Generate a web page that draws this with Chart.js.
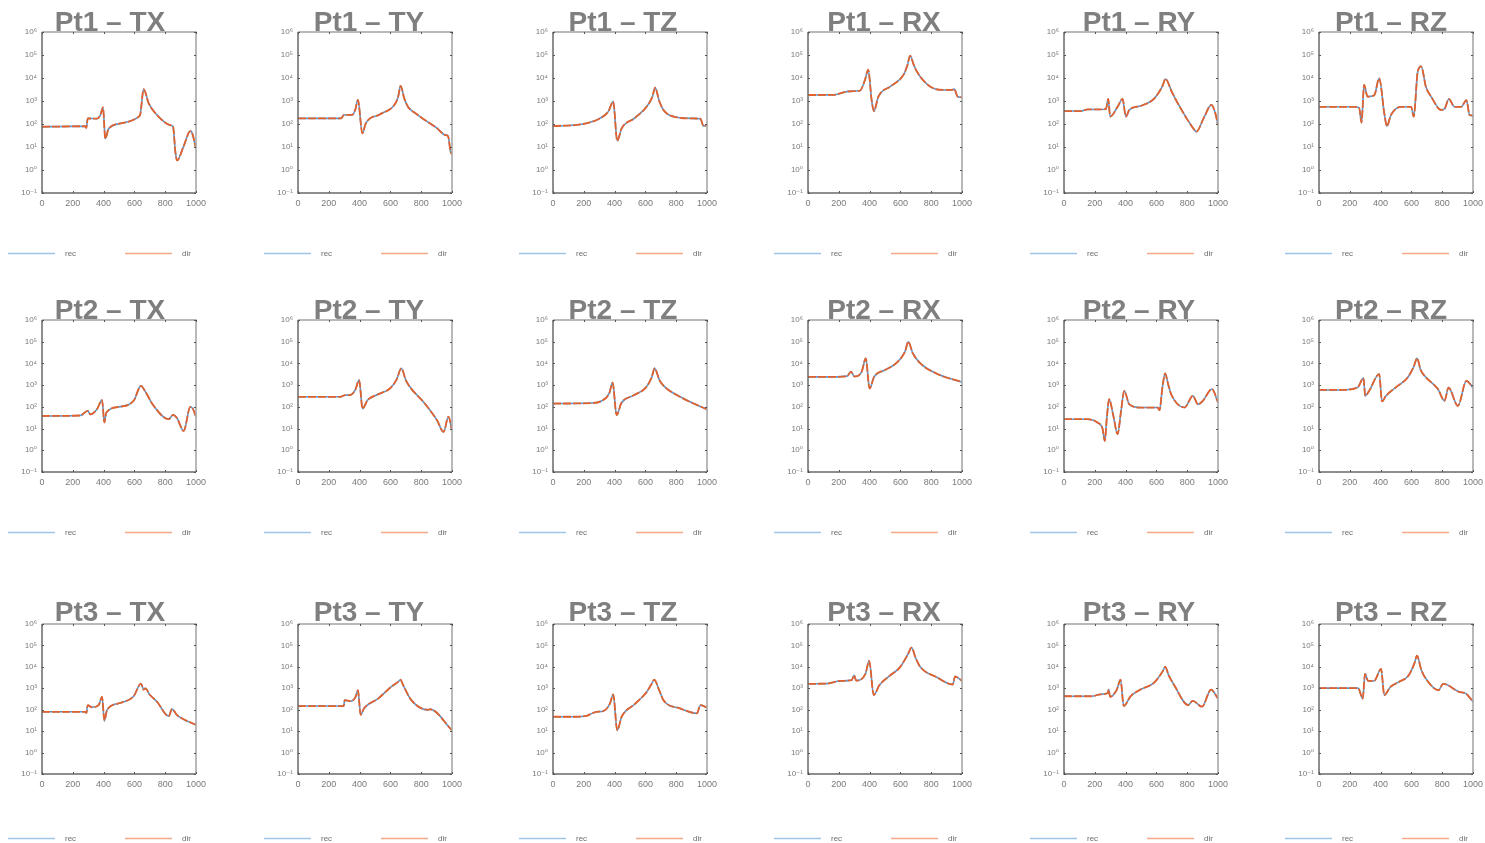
<!DOCTYPE html>
<html>
<head>
<meta charset="utf-8">
<title>Frequency response functions – rec vs dir</title>
<script src="https://cdn.jsdelivr.net/npm/chart.js@4.4.1/dist/chart.umd.min.js"></script>
<style>
  html, body { margin: 0; padding: 0; background: #ffffff; }
  #board { position: relative; width: 1485px; height: 843px; overflow: hidden; background: #ffffff; }
  #board canvas { position: absolute; }
</style>
</head>
<body>
<div id="board"></div>
<script>
// ---- response data: frequency (Hz) and magnitude for every point / DOF ----
// rec and dir coincide to plotting precision, so both datasets read the same arrays.
const pt1TX_f = [0, 150, 280, 288, 297, 357, 379, 396, 411, 433, 530, 628, 638, 660, 693, 747, 833, 851, 866, 877, 920, 963, 974, 1000];
const pt1TX_m = [76, 78, 80, 68, 175, 170, 245, 525, 23, 63, 112, 210, 260, 3250, 790, 245, 89, 76, 6.2, 2.6, 11, 49, 42, 8.5];

const pt1TY_f = [0, 280, 297, 352, 372, 389, 418, 440, 530, 626, 650, 666, 690, 714, 770, 824, 900, 956, 974, 991, 1000];
const pt1TY_m = [175, 175, 245, 250, 420, 1120, 39, 107, 260, 680, 1500, 4550, 1300, 560, 270, 148, 68, 33, 30, 6.2, 4.9];

const pt1TZ_f = [0, 196, 304, 359, 391, 417, 446, 530, 609, 645, 663, 690, 717, 804, 900, 957, 978, 1000];
const pt1TZ_m = [81, 100, 175, 345, 940, 18.6, 65, 180, 575, 1500, 3800, 1000, 410, 195, 175, 170, 81, 90];

const pt1RX_f = [0, 163, 250, 293, 337, 370, 391, 413, 428, 457, 540, 620, 645, 663, 685, 707, 793, 880, 935, 950, 972, 1000];
const pt1RX_m = [1820, 1850, 2550, 2700, 2800, 8300, 23000, 1120, 365, 1540, 4500, 13700, 35000, 93000, 40000, 19000, 4250, 3030, 3030, 3300, 1540, 1450];

const pt1RY_f = [0, 109, 152, 272, 287, 300, 348, 380, 402, 424, 500, 587, 640, 659, 700, 739, 848, 859, 910, 957, 983, 1000];
const pt1RY_m = [365, 365, 430, 440, 1230, 210, 560, 1230, 210, 410, 620, 1300, 4500, 9100, 2500, 790, 54, 46, 200, 680, 290, 89];

const pt1RZ_f = [0, 228, 261, 276, 293, 315, 359, 391, 424, 441, 467, 533, 598, 615, 641, 663, 695, 728, 793, 815, 843, 880, 924, 957, 978, 1000];
const pt1RZ_m = [560, 560, 500, 115, 5000, 1550, 1800, 9700, 290, 81, 245, 560, 560, 210, 19000, 32000, 4000, 1550, 410, 450, 1230, 560, 560, 1100, 245, 230];

const pt2TX_f = [0, 249, 297, 314, 357, 390, 405, 418, 500, 595, 643, 665, 725, 823, 851, 877, 920, 963, 978, 1000];
const pt2TX_m = [38, 40, 66, 45, 78, 205, 19, 55, 100, 190, 930, 590, 112, 27, 43, 30, 7.8, 100, 85, 35];

const pt2TY_f = [0, 274, 306, 339, 371, 397, 419, 452, 520, 597, 640, 671, 700, 726, 823, 903, 945, 977, 1000];
const pt2TY_m = [290, 290, 345, 350, 590, 1700, 83, 205, 380, 700, 1800, 5900, 1700, 840, 142, 24, 7, 35, 8.4];

const pt2TZ_f = [0, 254, 317, 365, 387, 413, 444, 520, 603, 640, 660, 690, 714, 825, 1000];
const pt2TZ_m = [142, 150, 190, 415, 1300, 42, 150, 330, 770, 2200, 5900, 1800, 1000, 290, 76];

const pt2RX_f = [0, 159, 254, 279, 302, 349, 375, 400, 429, 500, 571, 630, 651, 680, 730, 857, 1000];
const pt2RX_m = [2400, 2400, 2600, 4200, 2500, 4200, 17000, 700, 2400, 5000, 10000, 35000, 100000, 30000, 10000, 2900, 1400];

const pt2RY_f = [0, 152, 217, 250, 265, 278, 293, 320, 348, 370, 391, 424, 500, 609, 620, 640, 657, 675, 696, 783, 837, 870, 902, 961, 1000];
const pt2RY_m = [27, 27, 19, 10, 2.7, 30, 225, 40, 5.5, 60, 550, 130, 93, 93, 70, 900, 3500, 1200, 380, 93, 325, 130, 190, 660, 160];

const pt2RZ_f = [0, 141, 250, 289, 300, 326, 391, 409, 435, 500, 576, 615, 637, 660, 685, 772, 815, 841, 902, 957, 1000];
const pt2RZ_m = [600, 600, 770, 2100, 325, 550, 3250, 178, 325, 800, 2250, 7000, 17000, 5000, 2700, 660, 190, 770, 112, 1580, 770];

const pt3TX_f = [0, 281, 288, 297, 325, 368, 390, 405, 422, 500, 595, 643, 660, 671, 700, 747, 823, 844, 877, 1000];
const pt3TX_m = [80, 80, 70, 162, 130, 165, 400, 31, 96, 200, 425, 1660, 870, 1000, 500, 235, 50, 107, 56, 19.5];

const pt3TY_f = [0, 297, 303, 341, 374, 389, 407, 429, 520, 604, 650, 666, 681, 736, 846, 857, 1000];
const pt3TY_m = [148, 148, 280, 250, 400, 810, 58, 117, 330, 1150, 2000, 2500, 1500, 280, 98, 105, 11];

const pt3TZ_f = [0, 152, 217, 283, 326, 370, 391, 417, 446, 530, 609, 640, 657, 690, 717, 826, 935, 957, 1000];
const pt3TZ_m = [47, 47, 52, 80, 85, 195, 525, 11, 47, 180, 680, 1600, 2500, 800, 280, 115, 68, 162, 126];

const pt3RX_f = [0, 119, 209, 284, 299, 313, 373, 397, 427, 463, 530, 597, 650, 672, 700, 731, 836, 940, 955, 1000];
const pt3RX_m = [1620, 1650, 2200, 2400, 4000, 2300, 4700, 19000, 480, 1380, 3800, 9500, 40000, 79000, 25000, 9500, 3300, 1500, 3550, 2200];

const pt3RY_f = [0, 179, 239, 284, 290, 299, 343, 367, 388, 433, 500, 582, 640, 657, 680, 716, 806, 836, 896, 955, 1000];
const pt3RY_m = [425, 425, 525, 600, 870, 400, 870, 2500, 148, 430, 900, 1750, 6000, 10000, 4000, 1380, 166, 260, 138, 870, 330];

const pt3RZ_f = [0, 254, 284, 299, 319, 358, 403, 424, 463, 520, 582, 620, 636, 665, 701, 776, 806, 910, 955, 1000];
const pt3RZ_m = [1020, 1020, 330, 4700, 2200, 2200, 8000, 480, 1150, 2000, 4000, 15000, 33000, 7000, 2350, 810, 1620, 680, 560, 235];

// ---- labels and ticks ----
const POINTS = ['Pt1', 'Pt2', 'Pt3'];
const DOFS = ['TX', 'TY', 'TZ', 'RX', 'RY', 'RZ'];
const SERIES_NAMES = ['rec', 'dir'];
const X_TICKS = [0, 200, 400, 600, 800, 1000];
const Y_EXPONENTS = [-1, 0, 1, 2, 3, 4, 5, 6];

const RESPONSES = [
  [[pt1TX_f, pt1TX_m], [pt1TY_f, pt1TY_m], [pt1TZ_f, pt1TZ_m], [pt1RX_f, pt1RX_m], [pt1RY_f, pt1RY_m], [pt1RZ_f, pt1RZ_m]],
  [[pt2TX_f, pt2TX_m], [pt2TY_f, pt2TY_m], [pt2TZ_f, pt2TZ_m], [pt2RX_f, pt2RX_m], [pt2RY_f, pt2RY_m], [pt2RZ_f, pt2RZ_m]],
  [[pt3TX_f, pt3TX_m], [pt3TY_f, pt3TY_m], [pt3TZ_f, pt3TZ_m], [pt3RX_f, pt3RX_m], [pt3RY_f, pt3RY_m], [pt3RZ_f, pt3RZ_m]]
];

// ---- page layout (pixels) ----
const COL_PLOT_LEFT = [42, 298, 553, 808, 1064, 1319];
const COL_TITLE_DX = [-9, -6, -7, -1, -2, -5];
const ROW_LAYOUT = [
  { plotTop: 32,  plotH: 161, legendGap: 60, lift: 1 },
  { plotTop: 320, plotH: 152, legendGap: 60, lift: 1 },
  { plotTop: 624, plotH: 150, legendGap: 64, lift: 3 }
];
const PLOT_W = 154, Y_AXIS_W = 28, X_AXIS_H = 20, CANVAS_W = 250, TITLE_SPACE = 32;

const FONT = '"Liberation Sans", Arial, "DejaVu Sans", sans-serif';
const LINE_COLORS = ['#5b9bd5', '#e2622e'];
const LEGEND_COLORS = ['#9cc5e8', '#f3a98a'];

const SUP = { '-': '\u207B', '0': '\u2070', '1': '\u00B9', '2': '\u00B2', '3': '\u00B3', '4': '\u2074', '5': '\u2075', '6': '\u2076' };
const toSup = n => String(n).split('').map(c => SUP[c]).join('');

// frame, inner tick marks, panel title and legend
const panelDecor = {
  id: 'panelDecor',
  afterDraw(chart, args, opts) {
    const { ctx, chartArea: a } = chart;
    const xs = chart.scales.x, ys = chart.scales.y;
    ctx.save();
    ctx.lineWidth = 1.5;
    ctx.strokeStyle = '#a3a3a3';
    ctx.beginPath();
    ctx.moveTo(a.left, a.top); ctx.lineTo(a.right, a.top); ctx.lineTo(a.right, a.bottom);
    ctx.stroke();
    ctx.strokeStyle = '#6a6a6a';
    ctx.beginPath();
    ctx.moveTo(a.left, a.top); ctx.lineTo(a.left, a.bottom); ctx.lineTo(a.right, a.bottom);
    ctx.stroke();

    ctx.lineWidth = 1;
    ctx.strokeStyle = '#555555';
    ys.ticks.forEach(t => {
      const p = Math.round(ys.getPixelForValue(t.value)) + 0.5;
      ctx.beginPath();
      ctx.moveTo(a.left, p); ctx.lineTo(a.left + 2, p);
      ctx.moveTo(a.right - 2, p); ctx.lineTo(a.right, p);
      ctx.stroke();
    });
    xs.ticks.forEach(t => {
      const p = Math.round(xs.getPixelForValue(t.value)) + 0.5;
      ctx.beginPath();
      ctx.moveTo(p, a.bottom); ctx.lineTo(p, a.bottom - 2);
      ctx.moveTo(p, a.top); ctx.lineTo(p, a.top + 2);
      ctx.stroke();
    });

    ctx.font = 'bold 28px ' + FONT;
    ctx.fillStyle = '#7f7f7f';
    ctx.textAlign = 'center';
    ctx.textBaseline = 'alphabetic';
    ctx.fillText(opts.text, (a.left + a.right) / 2 + opts.dx, a.top - opts.lift);

    const ly = a.bottom + opts.legendGap + 0.5;
    const lineStart = [-34, 83], textStart = [23, 140];
    ctx.font = '8px ' + FONT;
    ctx.textAlign = 'left';
    ctx.textBaseline = 'middle';
    chart.data.datasets.forEach((ds, i) => {
      ctx.strokeStyle = LEGEND_COLORS[i];
      ctx.lineWidth = 1.3;
      ctx.beginPath();
      ctx.moveTo(a.left + lineStart[i], ly);
      ctx.lineTo(a.left + lineStart[i] + 47, ly);
      ctx.stroke();
      ctx.fillStyle = '#6b6b6b';
      ctx.fillText(ds.label, a.left + textStart[i], ly);
    });
    ctx.restore();
  }
};

const board = document.getElementById('board');

POINTS.forEach((pt, r) => {
  const row = ROW_LAYOUT[r];
  DOFS.forEach((dof, c) => {
    const [freq, mag] = RESPONSES[r][c];
    const pts = freq.map((f, i) => ({ x: f, y: mag[i] }));
    const canvasTop = row.plotTop - TITLE_SPACE;
    const canvasH = Math.min(843 - canvasTop, TITLE_SPACE + row.plotH + X_AXIS_H + 50);
    const canvas = document.createElement('canvas');
    canvas.width = CANVAS_W;
    canvas.height = canvasH;
    canvas.style.left = (COL_PLOT_LEFT[c] - 42) + 'px';
    canvas.style.top = canvasTop + 'px';
    canvas.style.width = CANVAS_W + 'px';
    canvas.style.height = canvasH + 'px';
    board.appendChild(canvas);

    new Chart(canvas, {
      type: 'line',
      data: {
        datasets: [
          { label: SERIES_NAMES[0], data: pts, borderColor: LINE_COLORS[0], borderWidth: 1.6,
            pointRadius: 0, cubicInterpolationMode: 'monotone', order: 1 },
          { label: SERIES_NAMES[1], data: pts, borderColor: LINE_COLORS[1], borderWidth: 1.8,
            borderDash: [8, 2], pointRadius: 0, cubicInterpolationMode: 'monotone', order: 0 }
        ]
      },
      options: {
        responsive: false,
        animation: false,
        devicePixelRatio: 1,
        parsing: false,
        layout: {
          padding: {
            left: 42 - Y_AXIS_W,
            right: CANVAS_W - 42 - PLOT_W,
            top: TITLE_SPACE,
            bottom: canvasH - TITLE_SPACE - row.plotH - X_AXIS_H
          }
        },
        plugins: {
          legend: { display: false },
          tooltip: { enabled: false },
          panelDecor: { text: pt + ' \u2013 ' + dof, dx: COL_TITLE_DX[c], lift: row.lift, legendGap: row.legendGap }
        },
        scales: {
          x: {
            type: 'linear', min: 0, max: 1000,
            afterFit: s => { s.height = X_AXIS_H; },
            afterBuildTicks: s => { s.ticks = X_TICKS.map(v => ({ value: v })); },
            ticks: {
              callback: v => String(v),
              font: { size: 9, family: FONT }, color: '#7a7a7a', padding: 5, maxRotation: 0, autoSkip: false
            },
            grid: { display: false, drawTicks: false },
            border: { display: false }
          },
          y: {
            type: 'logarithmic', min: 0.1, max: 1e6,
            afterFit: s => { s.width = Y_AXIS_W; },
            afterBuildTicks: s => { s.ticks = Y_EXPONENTS.map(e => ({ value: Math.pow(10, e) })); },
            ticks: {
              callback: v => '10' + toSup(Math.round(Math.log10(v))),
              font: { size: 8, family: FONT }, color: '#7a7a7a', padding: 5, autoSkip: false
            },
            grid: { display: false, drawTicks: false },
            border: { display: false }
          }
        }
      },
      plugins: [panelDecor]
    });
  });
});
</script>
</body>
</html>
